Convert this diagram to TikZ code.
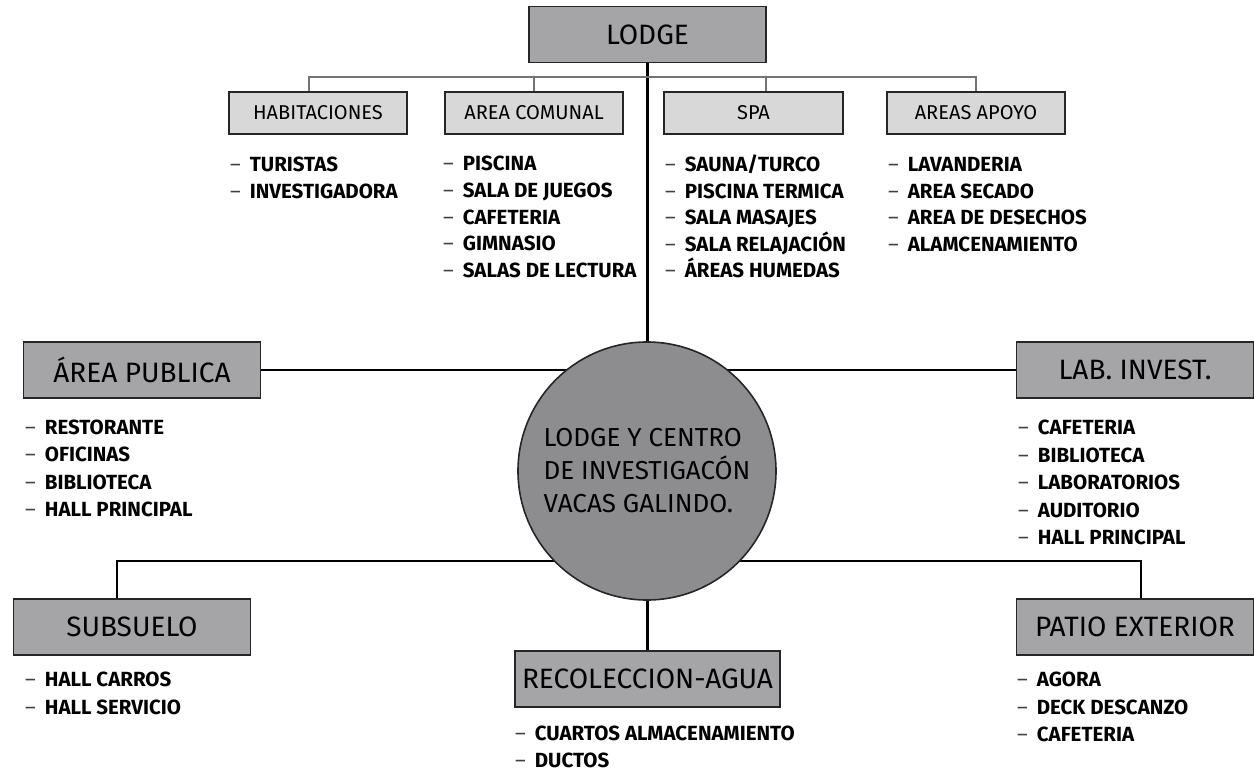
\documentclass[tikz,border=0pt]{standalone}
\usepackage{fontspec}
\setmainfont{Fira Sans}
\usetikzlibrary{backgrounds}

\definecolor{boxgray}{HTML}{A5A5A8}
\definecolor{circgray}{HTML}{8D8D90}
\definecolor{subgray}{HTML}{D8D8D8}

\tikzset{
  bigbox/.style={draw=black!85,line width=1.6pt,fill=boxgray,minimum width=237pt,minimum height=56pt,inner sep=0pt,font=\fontsize{28}{28}\selectfont},
  subbox/.style={draw=black!85,line width=1.4pt,fill=subgray,minimum width=178pt,minimum height=42pt,inner sep=0pt,font=\fontsize{20}{20}\selectfont},
  item/.style={anchor=base west,inner sep=0pt,font=\bfseries\fontsize{20.5}{20.5}\selectfont},
  link/.style={line width=2.6pt},
  twig/.style={line width=1.1pt,draw=black!55}
}
\newcommand{\itm}[1]{{\mdseries\color{black!75}\textendash}\hspace{9pt}#1}

\begin{document}
\begin{tikzpicture}[x=1pt,y=-1pt]
		\useasboundingbox (0,0) rectangle (1254,772);
		% main nodes
		\node[bigbox] (lodge) at (647.5,34.5) {LODGE};
		\node[draw=black!85,line width=1.6pt,circle,fill=circgray,minimum size=258pt,inner sep=0pt,align=left,font=\fontsize{26}{33}\selectfont] (core) at (647,471) {LODGE Y CENTRO\\DE INVESTIGACÓN\\VACAS GALINDO.};
		\node[bigbox] (pub) at (142,370) {ÁREA PUBLICA};
		\node[bigbox] (lab) at (1135,370) {LAB. INVEST.};
		\node[bigbox] (sub) at (132,627) {SUBSUELO};
		\node[bigbox] (pat) at (1135,627) {PATIO EXTERIOR};
		\node[bigbox,minimum width=265pt] (rec) at (647.5,679) {RECOLECCION-AGUA};
		% lodge parts
		\node[subbox] (habit) at (318,113) {HABITACIONES};
		\node[subbox] (comun) at (534,113) {AREA COMUNAL};
		\node[subbox,minimum width=179pt] (spa) at (753.5,113) {SPA};
		\node[subbox] (apoyo) at (976,113) {AREAS APOYO};
		\coordinate (bar) at (0,77);
		\coordinate (low) at (1141,561);

		\begin{pgfonlayer}{background}
		\draw[link] (lodge.south) -- (rec.north);
		\draw[link] (pub.east) -- (pub.east -| lab.west);
		\draw[link] ([xshift=-15pt]sub.north) |- (low) -- (low |- pat.north);
		\draw[twig] ([xshift=-9pt]habit.north) |- (apoyo.north |- bar) -- (apoyo.north);
		\draw[twig] (comun.north) -- (comun.north |- bar);
		\draw[twig] ([xshift=12.5pt]spa.north) -- ([xshift=12.5pt]spa.north |- bar);
		\end{pgfonlayer}

		% lists
		\foreach \t [count=\i from 0] in {TURISTAS,INVESTIGADORA}
			\node[item] (habit-\i) at (230,{171.5+26.5*\i}) {\itm{\t}};
		\foreach \t [count=\i from 0] in {PISCINA,SALA DE JUEGOS,CAFETERIA,GIMNASIO,SALAS DE LECTURA}
			\node[item] (comun-\i) at (443,{170.5+26.75*\i}) {\itm{\t}};
		\foreach \t [count=\i from 0] in {SAUNA/TURCO,PISCINA TERMICA,SALA MASAJES,SALA RELAJACIÓN,ÁREAS HUMEDAS}
			\node[item] (spa-\i) at (665,{171.5+26.6*\i}) {\itm{\t}};
		\foreach \t [count=\i from 0] in {LAVANDERIA,AREA SECADO,AREA DE DESECHOS,ALAMCENAMIENTO}
			\node[item] (apoyo-\i) at (888,{171.5+26.7*\i}) {\itm{\t}};
		\foreach \t [count=\i from 0] in {RESTORANTE,OFICINAS,BIBLIOTECA,HALL PRINCIPAL}
			\node[item] (pub-\i) at (25,{434.5+27.3*\i}) {\itm{\t}};
		\foreach \t [count=\i from 0] in {CAFETERIA,BIBLIOTECA,LABORATORIOS,AUDITORIO,HALL PRINCIPAL}
			\node[item] (lab-\i) at (1018,{434.5+27.5*\i}) {\itm{\t}};
		\foreach \t [count=\i from 0] in {HALL CARROS,HALL SERVICIO}
			\node[item] (sub-\i) at (25,{686.5+28*\i}) {\itm{\t}};
		\foreach \t [count=\i from 0] in {CUARTOS ALMACENAMIENTO,DUCTOS}
			\node[item] (rec-\i) at (515,{740.5+26.5*\i}) {\itm{\t}};
		\foreach \t [count=\i from 0] in {AGORA,DECK DESCANZO,CAFETERIA}
			\node[item] (pat-\i) at (1017,{686.5+27.5*\i}) {\itm{\t}};
\end{tikzpicture}
\end{document}
